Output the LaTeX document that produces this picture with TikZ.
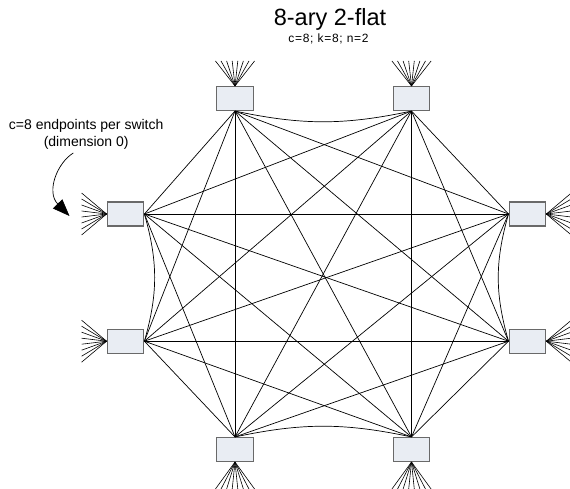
\documentclass[tikz,border=0pt]{standalone}
\usepackage{fontspec}
\setmainfont{Liberation Sans}
\usetikzlibrary{arrows.meta}
\definecolor{boxfill}{RGB}{233,237,243}
\definecolor{boxline}{RGB}{105,105,105}
\begin{document}
\begin{tikzpicture}[x=1pt,y=-1pt,
  switchbox/.style={draw=boxline,fill=boxfill,line width=1.1pt,minimum width=36.7pt,minimum height=24pt,inner sep=0pt},
  link/.style={black,line width=0.7pt},
  fan/.style={black,line width=0.6pt},
  lbl/.style={inner sep=0pt,anchor=base}]
\useasboundingbox (0,0) rectangle (570,489);
% switches
\node[switchbox] (TL) at (235,98.5) {};
\node[switchbox] (TR) at (411.5,98.5) {};
\node[switchbox] (RU) at (527.4,214) {};
\node[switchbox] (RL) at (527.4,341.2) {};
\node[switchbox] (BR) at (411.5,449.5) {};
\node[switchbox] (BL) at (235,449.5) {};
\node[switchbox] (LL) at (125.5,341.2) {};
\node[switchbox] (LU) at (125.5,214) {};
% dimension-1 links (all pairs)
\coordinate (p1) at (TL.south);
\coordinate (p2) at (TR.south);
\coordinate (p3) at (RU.west);
\coordinate (p4) at (RL.west);
\coordinate (p5) at (BR.north);
\coordinate (p6) at (BL.north);
\coordinate (p7) at (LL.east);
\coordinate (p8) at (LU.east);
\foreach \a/\b in {1/3,1/4,1/5,1/6,1/7,1/8,
                   2/4,2/5,2/6,2/7,2/8,2/3,
                   3/5,3/6,3/7,3/8,
                   4/6,4/7,4/8,4/5,
                   5/7,5/8,
                   6/8,6/7}
  \draw[link] (p\a) -- (p\b);
\draw[link] (p1) to[bend right=12] (p2);
\draw[link] (p3) to[bend right=16] (p4);
\draw[link] (p5) to[bend right=12] (p6);
\draw[link] (p7) to[bend right=16] (p8);
% endpoint fans (dimension 0)
\foreach \i in {0,...,7}{
  \draw[fan] (TL.north) -- ++({(\i-3.5)*5.6},-25);
  \draw[fan] (TR.north) -- ++({(\i-3.5)*5.6},-25);
  \draw[fan] (BL.south) -- ++({(\i-3.5)*5.6},27);
  \draw[fan] (BR.south) -- ++({(\i-3.5)*5.6},27);
  \draw[fan] (LU.west) -- ++(-25,{(\i-3.5)*6});
  \draw[fan] (LL.west) -- ++(-25,{(\i-3.5)*6});
  \draw[fan] (RU.east) -- ++(25,{(\i-3.5)*6});
  \draw[fan] (RL.east) -- ++(25,{(\i-3.5)*6});
}
% titles
\node[lbl,font=\fontsize{23.5}{26}\selectfont] (title) at (330,25.7) {8-ary 2-flat};
\node[lbl,font=\fontsize{12}{14}\selectfont\addfontfeature{LetterSpace=6}] (sub) at (328.5,42.3) {c=8; k=8; n=2};
% annotation
\node[lbl,font=\fontsize{14}{16}\selectfont] (ann1) at (86.2,130) {c=8 endpoints per switch};
\node[lbl,font=\fontsize{14}{16}\selectfont] (ann2) at (86.2,146.5) {(dimension 0)};
\coordinate (arrS) at (73.3,153);
\coordinate (arrE) at (69.5,216);
\draw[black,line width=0.7pt,-{Triangle[length=17pt,width=13pt]}] (arrS) .. controls (57,163) and (46,192) .. (arrE);
\end{tikzpicture}
\end{document}
